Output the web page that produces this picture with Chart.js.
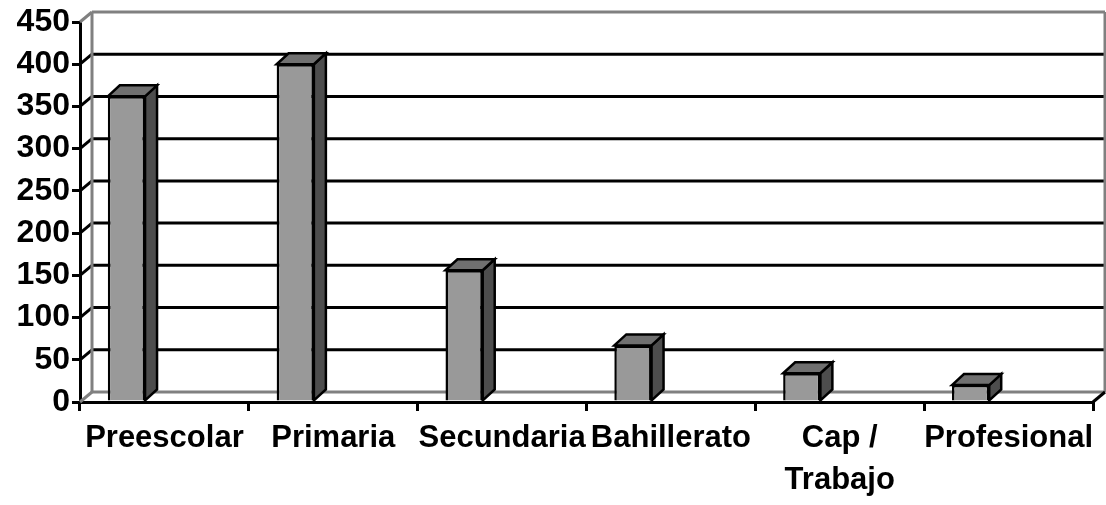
<!DOCTYPE html>
<html>
<head>
<meta charset="utf-8">
<script src="https://cdn.jsdelivr.net/npm/chart.js"></script>
<style>
  body { margin: 0; background: #fff; }
  #wrap { width: 1106px; height: 505px; }
</style>
</head>
<body>
<div id="wrap"><canvas id="chart" width="1106" height="505"></canvas></div>
<script>
// ===== DATA =====
const categories = ["Preescolar", "Primaria", "Secundaria", "Bahillerato", ["Cap /", "Trabajo"], "Profesional"];
const values = [362, 400, 156, 67, 34, 20];
const yMin = 0;
const yMax = 450;
const yStep = 50;

// ===== STYLE =====
const FAMILY = "'Liberation Sans', Arial, sans-serif";
const X_FONT = { family: FAMILY, size: 31, weight: "bold", lineHeight: 1.35 };
const Y_FONT = { family: FAMILY, size: 32, weight: "bold" };
const WALL_DX = 12, WALL_DY = 10;   // depth of the back wall
const BAR_DX = 12, BAR_DY = 11;     // depth of each column
const GRAY = "#808080";

function line(ctx, x1, y1, x2, y2, color) {
  ctx.beginPath();
  ctx.strokeStyle = color;
  ctx.moveTo(x1, y1);
  ctx.lineTo(x2, y2);
  ctx.stroke();
}

function poly(ctx, pts, fill) {
  ctx.beginPath();
  ctx.moveTo(pts[0][0], pts[0][1]);
  pts.slice(1).forEach(p => ctx.lineTo(p[0], p[1]));
  ctx.closePath();
  ctx.fillStyle = fill;
  ctx.fill();
  ctx.stroke();
}

// back wall, gridlines and the side/top faces of the columns
const depthPlugin = {
  id: "depth",
  beforeDatasetsDraw(chart) {
    const { ctx, chartArea: a, scales } = chart;
    const y = scales.y;
    ctx.save();
    ctx.lineWidth = 3;
    ctx.lineCap = "butt";

    y.ticks.forEach(t => {
      const py = y.getPixelForValue(t.value);
      const c = (t.value === yMin || t.value === yMax) ? GRAY : "#000";
      line(ctx, a.left, py, a.left + WALL_DX, py - WALL_DY, c);
      line(ctx, a.left + WALL_DX, py - WALL_DY, a.right + WALL_DX, py - WALL_DY, c);
    });
    const top = y.getPixelForValue(yMax) - WALL_DY;
    const bot = y.getPixelForValue(yMin) - WALL_DY;
    line(ctx, a.left + WALL_DX, top, a.left + WALL_DX, bot, GRAY);
    line(ctx, a.right + WALL_DX, top, a.right + WALL_DX, bot, GRAY);
    line(ctx, a.right, bot + WALL_DY, a.right + WALL_DX, bot, "#000");

    ctx.lineWidth = 2.5;
    ctx.strokeStyle = "#000";
    ctx.lineJoin = "miter";
    chart.getDatasetMeta(0).data.forEach(bar => {
      const p = bar.getProps(["x", "y", "width", "base"], true);
      const l = p.x - p.width / 2, r = p.x + p.width / 2;
      poly(ctx, [[r, p.y], [r + BAR_DX, p.y - BAR_DY], [r + BAR_DX, p.base - BAR_DY], [r, p.base]], "#4d4d4d");
      poly(ctx, [[l, p.y], [l + BAR_DX, p.y - BAR_DY], [r + BAR_DX, p.y - BAR_DY], [r, p.y]], "#707070");
    });
    ctx.restore();
  }
};

new Chart(document.getElementById("chart"), {
  type: "bar",
  data: {
    labels: categories,
    datasets: [
      { data: values, backgroundColor: "#999999", borderColor: "#000", borderWidth: 2.5 },
      { data: values.map(() => null) } // empty slot so columns sit left in the category
    ]
  },
  options: {
    responsive: false,
    animation: false,
    categoryPercentage: 0.9,
    barPercentage: 0.49,
    layout: { padding: { top: 22, right: 13, left: 0, bottom: 0 } },
    plugins: { legend: { display: false }, tooltip: { enabled: false } },
    scales: {
      x: {
        grid: { offset: true, drawOnChartArea: false, tickLength: 9, color: "#000", lineWidth: 3 },
        border: { color: "#000", width: 3 },
        ticks: { font: X_FONT, color: "#000", padding: 7, maxRotation: 0, autoSkip: false },
        afterFit: s => { s.height = 103; }
      },
      y: {
        min: yMin,
        max: yMax,
        grid: { drawOnChartArea: false, tickLength: 8, color: "#000", lineWidth: 3 },
        border: { color: "#000", width: 3 },
        ticks: { stepSize: yStep, font: Y_FONT, color: "#000", padding: 2, autoSkip: false },
        afterFit: s => { s.width = 80; }
      }
    }
  },
  plugins: [depthPlugin]
});
</script>
</body>
</html>
